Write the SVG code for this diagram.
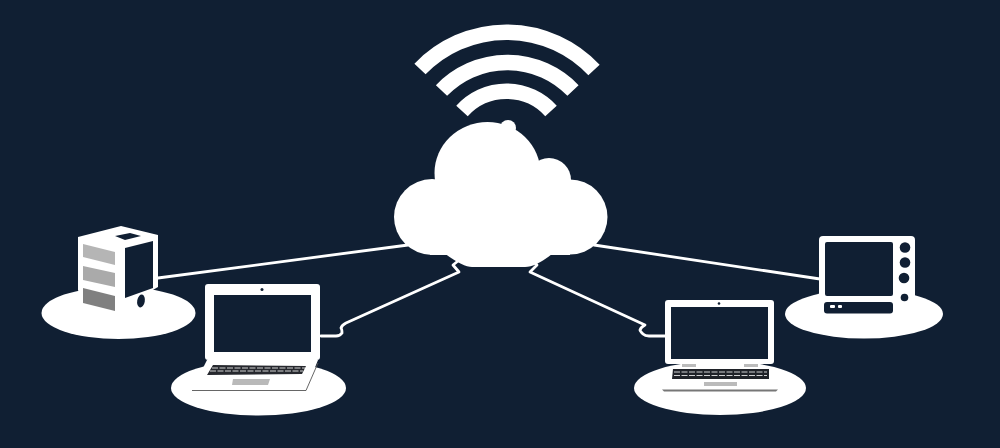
<svg xmlns="http://www.w3.org/2000/svg" width="1000" height="448" viewBox="0 0 1000 448">
<style>
.w{fill:#fff}
.d{fill:#101f33}
.wifi{fill:none;stroke:#fff;stroke-width:15.500}
.c{fill:none;stroke:#fff;stroke-width:2.800;stroke-linejoin:round;stroke-linecap:round}
.k{fill:none;stroke:#fff;stroke-width:.8;stroke-dasharray:6 1.500}
</style>
<rect width="1000" height="448" fill="#101f33"/>
<g id="connectors">
<path class="c" d="M158 278L408 245"/>
<path class="c" d="M820 279L594 245"/>
<path class="c" d="M321 336H336Q340 336 342 333Q342 329 341 328Q342 325 346 323L459 272L453 265L458 261"/>
<path class="c" d="M665 336H649Q645 336 643 334Q640 331 640 330Q641 327 645 325L530 272L537 265L533 261"/>
</g>
<g id="wifi">
<path class="wifi" d="M420 69A120 120 0 0 1 594 70"/>
<path class="wifi" d="M441.500 90.500A91 91 0 0 1 573 90.500"/>
<path class="wifi" d="M462 111A60 60 0 0 1 551 111"/>
</g>
<g id="cloud" class="w">
<ellipse cx="487.500" cy="173" rx="53" ry="51"/>
<circle cx="508" cy="128" r="8"/>
<circle cx="549" cy="180" r="22"/>
<circle cx="432" cy="217" r="38"/>
<circle cx="570" cy="217" r="37.500"/>
<rect x="430" y="180" width="140" height="75"/>
<path d="M440 250Q462 267 472 267H525Q537 267 557 250Z"/>
</g>
<g id="server-left">
<ellipse class="w" cx="118.500" cy="313" rx="77" ry="26"/>
<path class="w" d="M78 237L121 226L158 235V287L115 312L83 302L78 290Z"/>
<path class="d" d="M125 248L153 241V288L125 298Z"/>
<path class="d" d="M115 236L130 233L141 236L125 240Z"/>
<ellipse class="d" cx="141" cy="301" rx="3.800" ry="6.500" transform="rotate(10 141 301)"/>
<path fill="#b5b5b5" d="M83 244L115 252V265L83 257Z"/>
<path fill="#aaa" d="M83 266L115 273V287L83 280Z"/>
<path fill="#808080" d="M83 288L115 296V311L83 303Z"/>
</g>
<g id="laptop-left">
<ellipse class="w" cx="258.500" cy="388" rx="87.500" ry="27.500"/>
<rect class="w" x="205" y="284" width="115" height="76" rx="3"/>
<rect class="d" x="214" y="295" width="97" height="57"/>
<circle class="d" cx="262" cy="289.500" r="1.500"/>
<path class="w" d="M207 360H318L306 390L192 390Z"/>
<path fill="none" stroke="#555" stroke-width=".9" d="M318 363L306 390.500H192"/>
<path fill="#26282e" d="M213 365L306 366L302 374L207 375Z"/>
<path class="k" d="M212 368H305M210 371H303"/>
<path fill="#b9b9b9" d="M233 379H270L268 385H232Z"/>
</g>
<g id="laptop-right">
<ellipse class="w" cx="720" cy="388" rx="86" ry="27"/>
<rect class="w" x="665" y="300" width="109" height="64" rx="3"/>
<rect class="d" x="671" y="307" width="97" height="52"/>
<circle class="d" cx="719" cy="303.500" r="1.300"/>
<rect x="682" y="364" width="14" height="3" fill="#bbb"/>
<rect x="744" y="364" width="14" height="3" fill="#bbb"/>
<path fill="#1f2228" d="M673 369H769V379H672Z"/>
<path class="k" d="M674 372H767M674 375.500H767"/>
<rect x="704" y="382" width="33" height="4" fill="#bbb"/>
<path fill="#777" d="M662 389.500H778L776 391.500H664Z"/>
</g>
<g id="monitor-right">
<ellipse class="w" cx="864" cy="314" rx="79" ry="24.500"/>
<rect class="w" x="819" y="236" width="96" height="80" rx="4"/>
<rect class="d" x="825" y="242" width="68" height="54" rx="2"/>
<rect class="d" x="824" y="302" width="69" height="11.500" rx="3"/>
<rect class="w" x="830" y="305" width="5" height="3" rx="1"/>
<rect class="w" x="838" y="305" width="4" height="3" rx="1"/>
<circle class="d" cx="905" cy="247.500" r="5.300"/>
<circle class="d" cx="905" cy="262.500" r="5.300"/>
<circle class="d" cx="904" cy="278" r="5.300"/>
<circle class="d" cx="904.500" cy="297.500" r="3.800"/>
</g>
</svg>
